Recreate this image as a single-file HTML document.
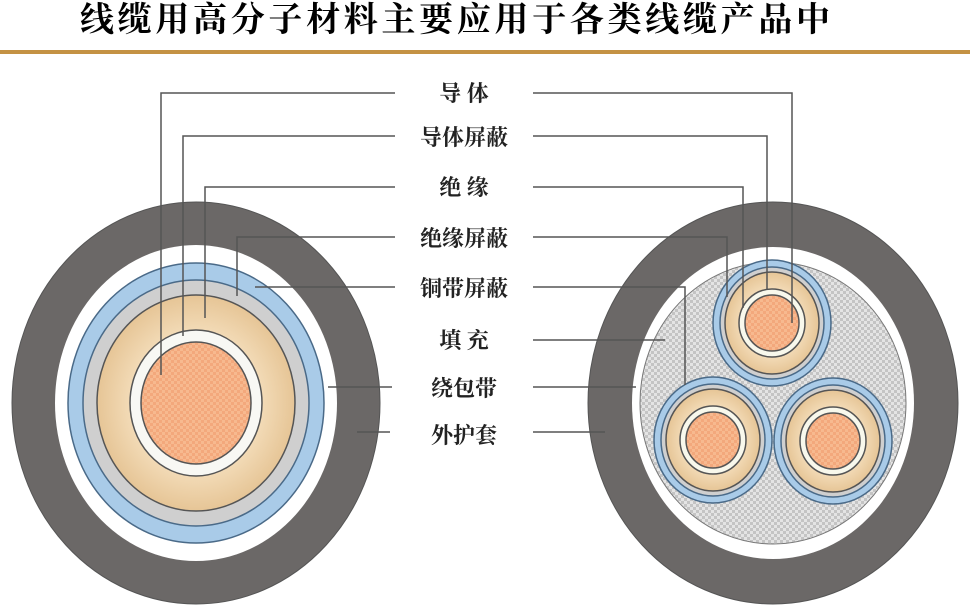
<!DOCTYPE html>
<html><head><meta charset="utf-8"><style>
html,body{margin:0;padding:0;background:#fff;}
svg{display:block;}
</style></head><body>
<svg width="970" height="615" viewBox="0 0 970 615" xmlns="http://www.w3.org/2000/svg">
<defs>
<pattern id="chk" width="6" height="6" patternUnits="userSpaceOnUse">
<rect width="6" height="6" fill="#e4e4e4"/>
<rect width="3" height="3" fill="#c4c4c4"/><rect x="3" y="3" width="3" height="3" fill="#c4c4c4"/>
</pattern>
<pattern id="cop" width="6" height="6" patternUnits="userSpaceOnUse">
<rect width="6" height="6" fill="#f3a87c"/>
<rect width="3" height="3" fill="#f7b98f"/><rect x="3" y="3" width="3" height="3" fill="#f7b98f"/>
</pattern>
<radialGradient id="beige" cx="0.5" cy="0.5" r="0.5">
<stop offset="0.6" stop-color="#f5dfbd"/><stop offset="1" stop-color="#e6c596"/>
</radialGradient>
<g id="sub">
<ellipse cx="0" cy="0" rx="59" ry="63" fill="#a9cbe8" stroke="#4a6a88" stroke-width="1.5"/>
<ellipse cx="0" cy="0" rx="52" ry="56" fill="#cfcfcf" stroke="#4a6a88" stroke-width="1.5"/>
<ellipse cx="0" cy="0" rx="47" ry="51" fill="url(#beige)" stroke="#555" stroke-width="1.5"/>
<ellipse cx="0" cy="0" rx="33" ry="34" fill="#f8f8ec" stroke="#555" stroke-width="1.5"/>
<ellipse cx="0" cy="0" rx="27" ry="28" fill="url(#cop)" stroke="#555" stroke-width="1.5"/>
</g>
</defs>
<text x="80" y="31" font-family="'Noto Serif CJK SC','Liberation Serif',serif" font-size="34" font-weight="bold" fill="#000" textLength="750">线缆用高分子材料主要应用于各类线缆产品中</text>
<rect x="0" y="50" width="970" height="4" fill="#c49244"/>

<!-- left cable -->
<g stroke="#444" stroke-width="1">
<ellipse cx="196" cy="403" rx="184" ry="201" fill="#6b6867" stroke="#555"/>
<ellipse cx="196" cy="403" rx="141" ry="158" fill="#fff" stroke="none"/>
<ellipse cx="196" cy="403" rx="128" ry="140" fill="#a9cbe8" stroke="#4a6a88" stroke-width="1.5"/>
<ellipse cx="196" cy="403" rx="113" ry="123" fill="#cfcfcf" stroke="#4a6a88" stroke-width="1.5"/>
<ellipse cx="196" cy="403" rx="99" ry="108" fill="url(#beige)" stroke="#555" stroke-width="1.5"/>
<ellipse cx="196" cy="403" rx="66" ry="73" fill="#f8f8f4" stroke="#555" stroke-width="1.5"/>
<ellipse cx="196" cy="403" rx="55" ry="61" fill="url(#cop)" stroke="#555" stroke-width="1.5"/>
</g>

<!-- right cable -->
<g stroke="#444" stroke-width="1">
<ellipse cx="773" cy="403" rx="185" ry="201" fill="#6b6867" stroke="#555"/>
<ellipse cx="773" cy="403" rx="141" ry="156" fill="#fff" stroke="none"/>
<ellipse cx="773" cy="403" rx="133" ry="141" fill="url(#chk)" stroke="#777"/>
</g>
<use href="#sub" x="772" y="323"/>
<use href="#sub" x="713" y="440"/>
<use href="#sub" x="833" y="441"/>

<!-- leader lines -->
<g stroke="#555" stroke-width="1.5" fill="none">
<polyline points="395,93 161,93 161,375"/>
<polyline points="395,136 183,136 183,336"/>
<polyline points="395,187 205,187 205,318"/>
<polyline points="395,237 237,237 237,296"/>
<polyline points="395,287 255,287"/>
<polyline points="392,387 328,387"/>
<polyline points="390,432 357,432"/>

<polyline points="533,93 792,93 792,323"/>
<polyline points="533,136 767,136 767,290"/>
<polyline points="533,187 743,187 743,308"/>
<polyline points="533,237 727,237 727,297"/>
<polyline points="533,287 685,287 685,385"/>
<polyline points="533,340 665,340"/>
<polyline points="533,387 636,387"/>
<polyline points="533,432 605,432"/>
</g>

<g font-family="'Noto Serif CJK SC','Liberation Serif',serif" font-size="22" font-weight="bold" fill="#222" text-anchor="middle">
<text x="464" y="101">导 体</text>
<text x="464" y="145">导体屏蔽</text>
<text x="464" y="195">绝 缘</text>
<text x="464" y="246">绝缘屏蔽</text>
<text x="464" y="296">铜带屏蔽</text>
<text x="464" y="348">填 充</text>
<text x="464" y="396">绕包带</text>
<text x="464" y="443">外护套</text>
</g>
</svg>
</body></html>
